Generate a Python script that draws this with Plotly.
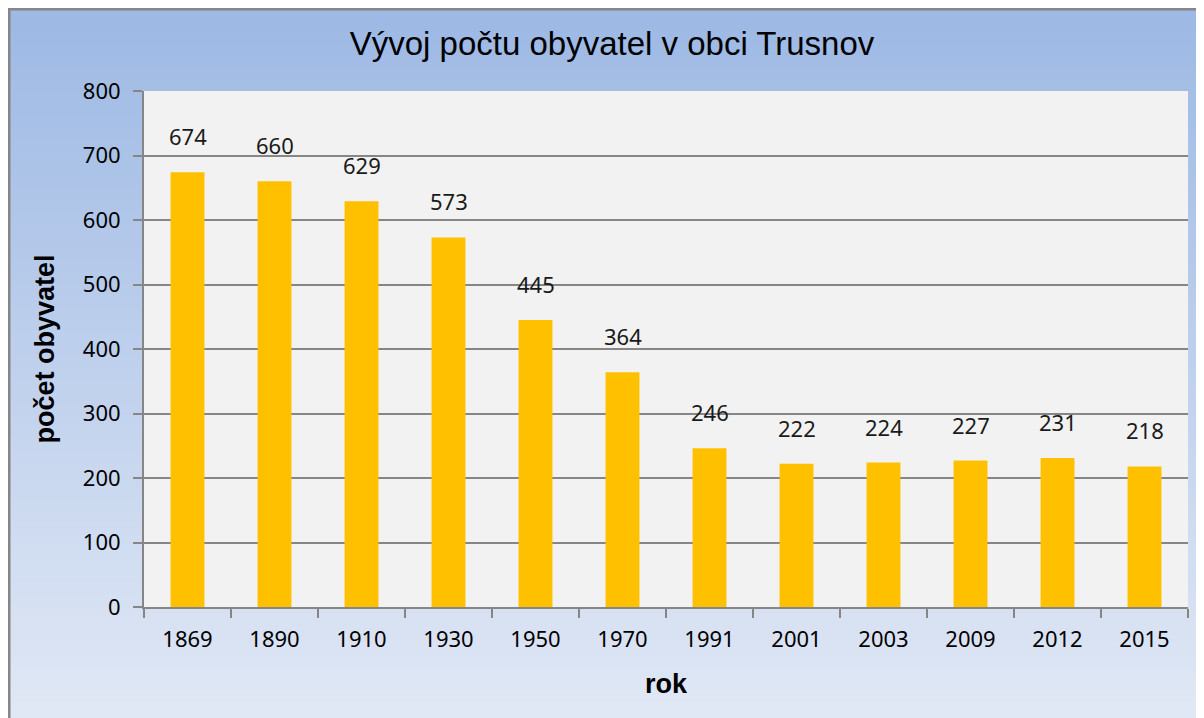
import plotly.graph_objects as go

years = ["1869", "1890", "1910", "1930", "1950", "1970", "1991", "2001", "2003", "2009", "2012", "2015"]
population = [674, 660, 629, 573, 445, 364, 246, 222, 224, 227, 231, 218]
y_ticks = [0, 100, 200, 300, 400, 500, 600, 700, 800]

# page offset of the figure (body margin)
OFF = 8
W, H = 1204, 718
L, R, T, B = 144 - OFF, 1204 + OFF - 1188, 91 - OFF, H + OFF - 607
pw, ph = W - L - R, H - T - B

def px_x(p):  # page px -> paper
    return (p - OFF - L) / pw

def px_y(p):
    return (H - B - (p - OFF)) / ph

fig = go.Figure()
fig.add_trace(go.Bar(
    x=years, y=population,
    marker=dict(color="#FFC000", line=dict(width=0)),
    width=0.39,
    hoverinfo="x+y",
))

for i, v in enumerate(population):
    fig.add_annotation(x=i, y=v, xref="x", yref="y", text=str(v), showarrow=False,
                       yanchor="bottom", yshift=19,
                       font=dict(family="Noto Sans", size=22, color="#1a1a1a"))

# gradient background bands
shapes = []
n = 60
top = (157, 185, 228)
bot = (225, 232, 245)
for i in range(n):
    f = i / (n - 1)
    c = tuple(round(top[k] + (bot[k] - top[k]) * f) for k in range(3))
    y0 = OFF + H * i / n
    y1 = OFF + H * (i + 1) / n + 1
    shapes.append(dict(type="rect", xref="paper", yref="paper", layer="below",
                       x0=px_x(0), x1=px_x(W + 20), y0=px_y(y1), y1=px_y(y0),
                       fillcolor="rgb(%d,%d,%d)" % c, line=dict(width=0)))
# plot area fill
shapes.append(dict(type="rect", xref="paper", yref="paper", layer="below",
                   x0=0, x1=1, y0=0, y1=1, fillcolor="#F2F2F2", line=dict(width=0)))
# chart border
shapes.append(dict(type="rect", xref="paper", yref="paper", layer="above",
                   x0=px_x(OFF + 1), x1=px_x(W + 30), y0=px_y(H + 30), y1=px_y(OFF + 1),
                   fillcolor="rgba(0,0,0,0)", line=dict(color="#868686", width=3)))

fig.update_layout(
    width=W, height=H,
    margin=dict(l=L, r=R, t=T, b=B),
    paper_bgcolor="#C4D3EE",
    plot_bgcolor="rgba(0,0,0,0)",
    shapes=shapes,
    showlegend=False,
    title=dict(text="Vývoj počtu obyvatel v obci Trusnov", x=(612 - OFF) / W, xanchor="center",
               xref="container", y=1 - (43 - OFF) / H, yanchor="middle",
               font=dict(family="Liberation Sans", size=33, color="#000000")),
    xaxis=dict(
        type="category", categoryorder="array", categoryarray=years,
        range=[-0.5, len(years) - 0.5], autorange=False,
        tickson="boundaries", ticks="outside", ticklen=9, tickangle=0,
        ticklabelstandoff=12,
        tickcolor="#868686", tickwidth=1.5, showline=True, linecolor="#868686", linewidth=2,
        showgrid=False, tickfont=dict(family="Noto Sans", size=22, color="#000000"),
        title=dict(text="<b>rok</b>", standoff=22,
                   font=dict(family="Liberation Sans", size=27, color="#000000")),
    ),
    yaxis=dict(
        range=[0, 800], tickvals=y_ticks, ticks="outside", ticklen=9,
        ticklabelstandoff=8,
        tickcolor="#868686", tickwidth=1.5, showline=True, linecolor="#868686", linewidth=2,
        showgrid=True, gridcolor="#868686", gridwidth=1.5, zeroline=False,
        tickfont=dict(family="Noto Sans", size=22, color="#000000"),
        title=dict(text="<b>počet obyvatel</b>", standoff=20,
                   font=dict(family="Liberation Sans", size=27, color="#000000")),
    ),
)

fig.write_html("out.html")
